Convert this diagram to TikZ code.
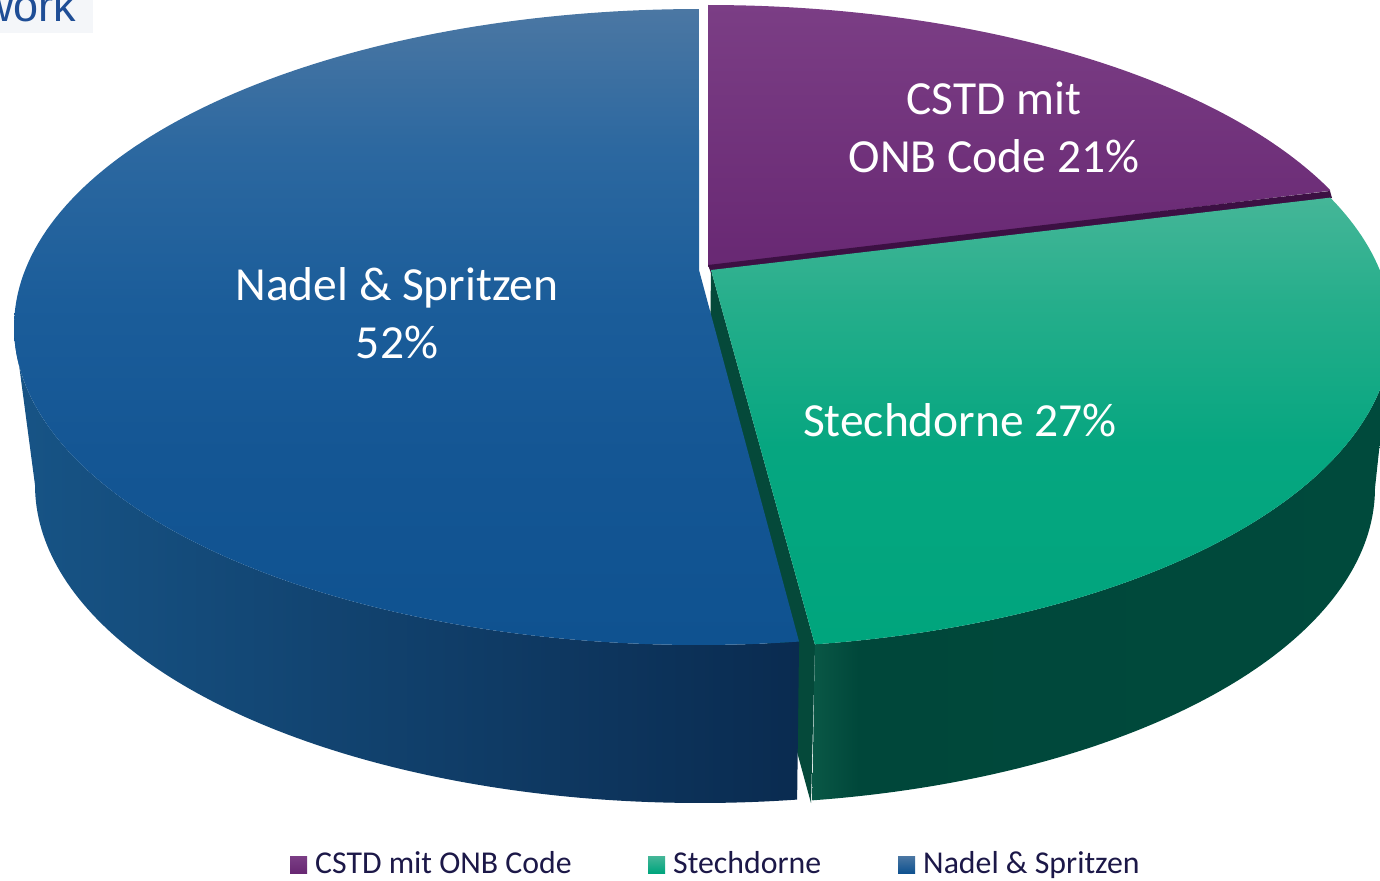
\documentclass[tikz,border=0pt]{standalone}
\usepackage{fontspec}
\setmainfont{Carlito}
\newfontfamily\headfont{Liberation Sans}
\definecolor{bluetopA}{HTML}{4B77A3}
\definecolor{bluetopAB}{HTML}{2C68A0}
\definecolor{bluetopB}{HTML}{1B5D9A}
\definecolor{bluetopBC}{HTML}{145694}
\definecolor{bluetopC}{HTML}{0F5290}
\definecolor{bluesideA}{HTML}{175486}
\definecolor{bluesideB}{HTML}{0A2B50}
\definecolor{purpletopA}{HTML}{7B3E85}
\definecolor{purpletopB}{HTML}{682873}
\definecolor{purpleedge}{HTML}{3C1043}
\definecolor{greentopA}{HTML}{45B698}
\definecolor{greentopAB}{HTML}{25AE8B}
\definecolor{greentopB}{HTML}{06A680}
\definecolor{greentopC}{HTML}{00A57D}
\definecolor{greensideA}{HTML}{0A5846}
\definecolor{greensideB}{HTML}{00473A}
\definecolor{greensideC}{HTML}{004A3C}
\definecolor{greencut}{HTML}{05493A}
\definecolor{legendtext}{HTML}{1C1848}
\definecolor{headblue}{HTML}{1F4E96}
\definecolor{headbg}{HTML}{F4F6F9}
% top face of the large slice: steel blue at the rim, saturated towards the front
\pgfdeclareverticalshading{bluetopshade}{100bp}{color(0bp)=(bluetopC); color(25bp)=(bluetopC);
  color(40bp)=(bluetopBC); color(52bp)=(bluetopB); color(64bp)=(bluetopAB);
  color(75bp)=(bluetopA); color(100bp)=(bluetopA)}
\pgfdeclareverticalshading{greentopshade}{100bp}{color(0bp)=(greentopC); color(25bp)=(greentopC);
  color(47bp)=(greentopB); color(63bp)=(greentopAB); color(75bp)=(greentopA); color(100bp)=(greentopA)}
\pgfdeclarehorizontalshading{greensideshade}{100bp}{color(0bp)=(greensideA); color(25bp)=(greensideA);
  color(29bp)=(greensideB); color(75bp)=(greensideC); color(100bp)=(greensideC)}
\tikzset{
  slicelabel/.style={text=white, align=center, inner sep=0pt,
    font=\fontsize{47.5}{58}\selectfont},
  legendlabel/.style={text=legendtext, anchor=base west, inner sep=0pt,
    font=\fontsize{31.8}{38}\selectfont},
  legendkey/.style={minimum size=17pt, inner sep=0pt, anchor=south west}
}
\begin{document}
\begin{tikzpicture}[x=1pt,y=-1pt]
\useasboundingbox (0,0) rectangle (1380,880);
\clip (0,0) rectangle (1380,880);

% header fragment in the corner
\fill[headbg] (0,0) rectangle (93,33);
\node[anchor=base west, inner sep=0pt, text=headblue,
      font=\headfont\fontsize{45}{54}\selectfont] (head) at (-19,22) {work};

% ---- Stechdorne: radial cut face
\fill[greencut] (711,270) -- (815,645) -- (811,803) -- (709,430) -- cycle;

% ---- CSTD mit ONB Code: top face and front edge
\shade[top color=purpletopA, bottom color=purpletopB]
  (708,267) -- plot[domain=270:335.4, samples=80, variable=\t]
  ({708+685*cos(\t)},{323+318*sin(\t)}) -- cycle;
\fill[purpleedge] (708,265) -- (1330,191) -- (1332,198) -- (711,273) -- cycle;

% ---- Stechdorne: outer side
\shade[shading=greensideshade]
  plot[domain=0:81.3, samples=80, variable=\t]
  ({712+680*cos(\t)},{330+318*sin(\t)})
  -- plot[domain=0:81.3, samples=80, variable=\t]
  ({712+663*cos(81.3-\t)},{488+316*sin(81.3-\t)}) -- cycle;
% ---- Stechdorne: top face
\shade[shading=greentopshade]
  (711,270) -- plot[domain=-24.6:81.3, samples=100, variable=\t]
  ({712+680*cos(\t)},{330+318*sin(\t)}) -- cycle;

% ---- Nadel & Spritzen: outer side
\shade[left color=bluesideA, right color=bluesideB]
  plot[domain=81.6:180, samples=100, variable=\t]
  ({699+685*cos(\t)},{327+318*sin(\t)})
  -- plot[domain=81.6:180, samples=100, variable=\t]
  ({700+665*cos(261.6-\t)},{485+318*sin(261.6-\t)}) -- cycle;
% ---- Nadel & Spritzen: top face
\shade[shading=bluetopshade]
  (699,270) -- plot[domain=81.6:270, samples=160, variable=\t]
  ({699+685*cos(\t)},{327+318*sin(\t)}) -- cycle;

% ---- slice labels
\node[slicelabel] (lcstd) at (994,127) {CSTD mit\\ONB Code 21\%};
\node[slicelabel] (lstech) at (960,420) {Stechdorne 27\%};
\node[slicelabel] (lnadel) at (397,313) {Nadel \& Spritzen\\52\%};

% ---- legend
\shade[top color=purpletopA, bottom color=purpletopB] (290,856) rectangle (307,873);
\node[legendkey] (kcstd) at (290,873) {};
\node[legendlabel] (tcstd) at (315,873) {CSTD mit ONB Code};
\shade[top color=greentopA, bottom color=greentopC] (648,856) rectangle (665,873);
\node[legendkey] (kstech) at (648,873) {};
\node[legendlabel] (tstech) at (673,873) {Stechdorne};
\shade[top color=bluetopA, bottom color=bluetopC] (898,856) rectangle (915,873);
\node[legendkey] (knadel) at (898,873) {};
\node[legendlabel] (tnadel) at (923,873) {Nadel \& Spritzen};
\end{tikzpicture}
\end{document}
